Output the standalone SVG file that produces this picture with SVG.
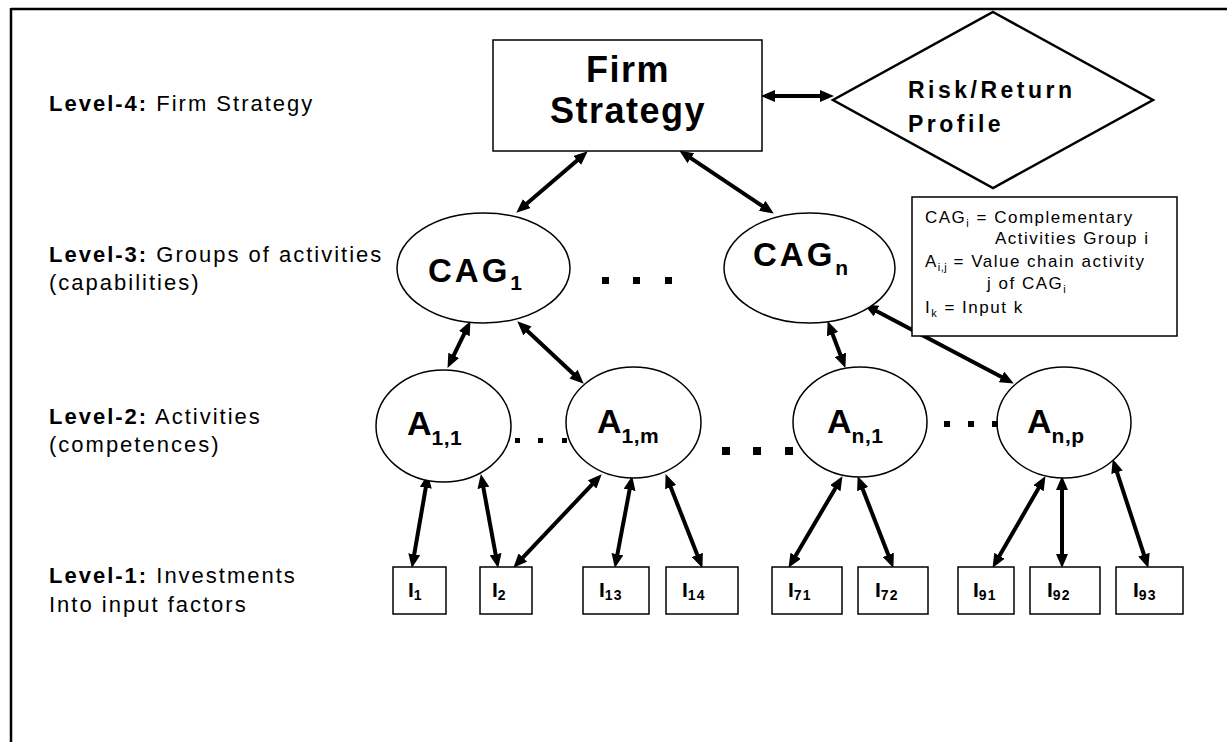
<svg xmlns="http://www.w3.org/2000/svg" width="1227" height="742" viewBox="0 0 1227 742">
<style>
text{font-family:"Liberation Sans",Arial,sans-serif;fill:#000}
.lbl{font-size:22px;letter-spacing:2px}
.node{fill:#fff;stroke:#000;stroke-width:1.5}
.conn{stroke:#000;stroke-width:4;fill:none;marker-start:url(#ah);marker-end:url(#ah)}
.big{font-size:33px;font-weight:bold;letter-spacing:3px}
.a{font-size:34px;font-weight:bold}
.asub{font-size:21px;font-weight:bold;letter-spacing:0.5px}
.inp{font-size:21px;font-weight:bold}
.isub{font-size:14px;font-weight:bold;letter-spacing:1px}
.leg{font-size:17px;letter-spacing:1.5px}
.dot{fill:#000}
</style>
<defs>
<marker id="ah" markerUnits="userSpaceOnUse" markerWidth="14" markerHeight="12" refX="5" refY="6" orient="auto-start-reverse" viewBox="0 0 14 12">
<path d="M0,0 L14,6 L0,12 z" fill="#000"/>
</marker>
</defs>
<rect width="1227" height="742" fill="#fff"/>
<g id="frame" stroke="#000" stroke-width="2.5">
<line x1="11" y1="9" x2="1227" y2="9"/>
<line x1="11" y1="8" x2="11" y2="742"/>
</g>
<g id="level-labels">
<text class="lbl" x="49" y="111"><tspan font-weight="bold">Level-4:</tspan> Firm Strategy</text>
<text class="lbl" x="49" y="262"><tspan font-weight="bold">Level-3:</tspan> Groups of activities</text>
<text class="lbl" x="49" y="290">(capabilities)</text>
<text class="lbl" x="49" y="424"><tspan font-weight="bold">Level-2:</tspan> Activities</text>
<text class="lbl" x="49" y="452">(competences)</text>
<text class="lbl" x="49" y="583"><tspan font-weight="bold">Level-1:</tspan> Investments</text>
<text class="lbl" x="49" y="612">Into input factors</text>
</g>
<g id="connectors">
<line class="conn" x1="770" y1="96" x2="825" y2="96"/>
<line class="conn" x1="580.9" y1="157.2" x2="523.1" y2="206.8"/>
<line class="conn" x1="686.7" y1="155.4" x2="766.3" y2="208.6"/>
<line class="conn" x1="466.5" y1="329.2" x2="451.5" y2="359.8"/>
<line class="conn" x1="523.8" y1="327.5" x2="577.2" y2="377.5"/>
<line class="conn" x1="830.8" y1="329.5" x2="842.2" y2="359.5"/>
<line class="conn" x1="872.1" y1="308.7" x2="1005.9" y2="379.3"/>
<line class="conn" x1="426.6" y1="482.9" x2="413.4" y2="559.1"/>
<line class="conn" x1="482.5" y1="482.9" x2="496.5" y2="559.1"/>
<line class="conn" x1="595.5" y1="480.8" x2="519.5" y2="561.2"/>
<line class="conn" x1="630.5" y1="484.9" x2="616.5" y2="559.1"/>
<line class="conn" x1="668.9" y1="482.5" x2="699.1" y2="559.5"/>
<line class="conn" x1="837.9" y1="483.9" x2="793.1" y2="560.1"/>
<line class="conn" x1="860.9" y1="484.5" x2="890.1" y2="559.5"/>
<line class="conn" x1="1041" y1="483.9" x2="997" y2="560.1"/>
<line class="conn" x1="1062" y1="485" x2="1062" y2="559"/>
<line class="conn" x1="1115.5" y1="467.6" x2="1145.5" y2="559.4"/>
</g>
<g id="firm-strategy">
<rect class="node" x="493" y="40" width="269" height="111"/>
<text x="628" y="82" text-anchor="middle" font-size="36" font-weight="bold" letter-spacing="1.5">Firm</text>
<text x="628" y="123" text-anchor="middle" font-size="36" font-weight="bold" letter-spacing="1.5">Strategy</text>
</g>
<g id="risk-return">
<polygon points="993,12 1153,100 993,188 833,100" fill="#fff" stroke="#000" stroke-width="2.5"/>
<text x="908" y="98" font-size="23" font-weight="bold" letter-spacing="3.5">Risk/Return</text>
<text x="908" y="132" font-size="23" font-weight="bold" letter-spacing="3.5">Profile</text>
</g>
<g id="legend">
<rect class="node" x="912" y="197" width="265" height="139"/>
<text class="leg" x="925" y="223">CAG<tspan font-size="11" dy="4">i</tspan><tspan dy="-4"> = Complementary</tspan></text>
<text class="leg" x="995" y="244">Activities Group i</text>
<text class="leg" x="925" y="267">A<tspan font-size="11" dy="4" letter-spacing="0.5">i,j</tspan><tspan dy="-4"> = Value chain activity</tspan></text>
<text class="leg" x="987" y="289">j of CAG<tspan font-size="11" dy="4">i</tspan></text>
<text class="leg" x="925" y="313">I<tspan font-size="11" dy="4">k</tspan><tspan dy="-4"> = Input k</tspan></text>
</g>
<g id="cag1">
<ellipse class="node" cx="483.5" cy="268" rx="86.5" ry="55"/>
<text class="big" x="428" y="282">CAG<tspan font-size="21" dy="8" letter-spacing="0">1</tspan></text>
</g>
<g id="cagn">
<ellipse class="node" cx="809.5" cy="268" rx="85.5" ry="55"/>
<text class="big" x="753" y="266">CAG<tspan font-size="21" dy="9" letter-spacing="0">n</tspan></text>
</g>
<g id="dots-level3">
<rect class="dot" x="602" y="277" width="7" height="7"/>
<rect class="dot" x="633" y="277" width="7" height="7"/>
<rect class="dot" x="665" y="277" width="7" height="7"/>
</g>
<g id="a11">
<ellipse class="node" cx="443.5" cy="426" rx="67.5" ry="56"/>
<text class="a" x="407" y="435">A<tspan class="asub" dy="10">1,1</tspan></text>
</g>
<g id="a1m">
<ellipse class="node" cx="633.5" cy="422.5" rx="67.5" ry="55.5"/>
<text class="a" x="597" y="433">A<tspan class="asub" dy="10">1,m</tspan></text>
</g>
<g id="an1">
<ellipse class="node" cx="860" cy="422" rx="67" ry="55"/>
<text class="a" x="827" y="433">A<tspan class="asub" dy="10">n,1</tspan></text>
</g>
<g id="anp">
<ellipse class="node" cx="1064" cy="422.5" rx="67" ry="55.5"/>
<text class="a" x="1027" y="433">A<tspan class="asub" dy="10">n,p</tspan></text>
</g>
<g id="dots-level2">
<rect class="dot" x="515" y="438" width="5" height="5"/>
<rect class="dot" x="538" y="438" width="5" height="5"/>
<rect class="dot" x="562" y="438" width="5" height="5"/>
<rect class="dot" x="722" y="447" width="8" height="8"/>
<rect class="dot" x="753" y="447" width="8" height="8"/>
<rect class="dot" x="785" y="447" width="8" height="8"/>
<rect class="dot" x="944" y="421" width="6" height="6"/>
<rect class="dot" x="968" y="421" width="6" height="6"/>
<rect class="dot" x="992" y="421" width="6" height="6"/>
</g>
<g id="i1"><rect class="node" x="393" y="567" width="53" height="47"/><text class="inp" x="408" y="597">I<tspan class="isub" dy="3">1</tspan></text></g>
<g id="i2"><rect class="node" x="480" y="567" width="52" height="47"/><text class="inp" x="492" y="597">I<tspan class="isub" dy="3">2</tspan></text></g>
<g id="i13"><rect class="node" x="583" y="567" width="66" height="47"/><text class="inp" x="599" y="597">I<tspan class="isub" dy="3">13</tspan></text></g>
<g id="i14"><rect class="node" x="666" y="567" width="72" height="47"/><text class="inp" x="682" y="597">I<tspan class="isub" dy="3">14</tspan></text></g>
<g id="i71"><rect class="node" x="772" y="567" width="70" height="47"/><text class="inp" x="788" y="597">I<tspan class="isub" dy="3">71</tspan></text></g>
<g id="i72"><rect class="node" x="858" y="567" width="70" height="47"/><text class="inp" x="875" y="597">I<tspan class="isub" dy="3">72</tspan></text></g>
<g id="i91"><rect class="node" x="958" y="567" width="56" height="47"/><text class="inp" x="973" y="597">I<tspan class="isub" dy="3">91</tspan></text></g>
<g id="i92"><rect class="node" x="1030" y="567" width="70" height="47"/><text class="inp" x="1047" y="597">I<tspan class="isub" dy="3">92</tspan></text></g>
<g id="i93"><rect class="node" x="1116" y="567" width="67" height="47"/><text class="inp" x="1133" y="597">I<tspan class="isub" dy="3">93</tspan></text></g>
</svg>
